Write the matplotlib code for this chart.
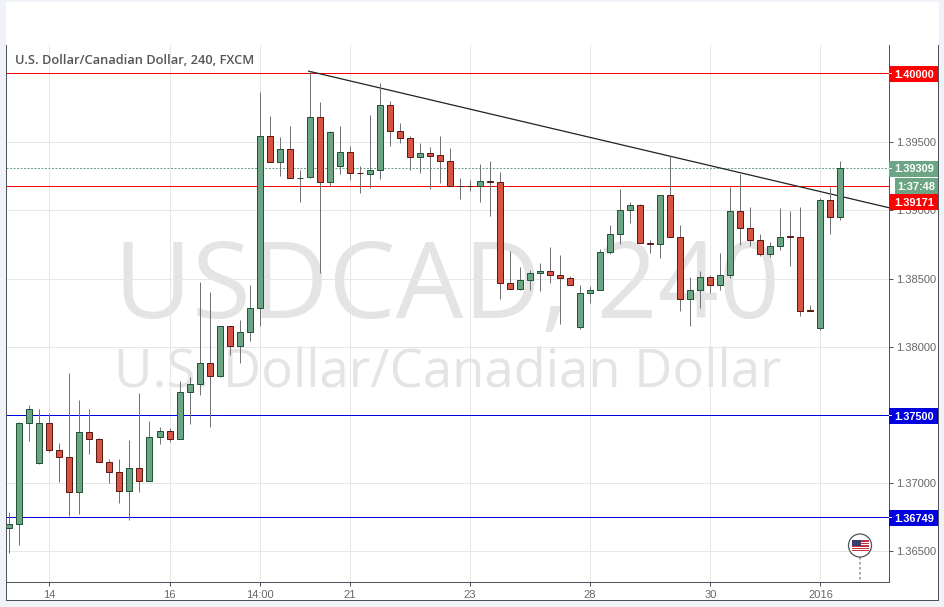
import matplotlib
matplotlib.use("Agg")
import matplotlib.pyplot as plt
from matplotlib.patches import Rectangle, Circle
from matplotlib.transforms import Affine2D

# --- candles, oldest first ---
opens = [1.36667, 1.36699, 1.37441, 1.37147, 1.37441, 1.37243, 1.37191, 1.36934, 1.37375, 1.37323,
         1.37154, 1.37081, 1.36941, 1.37110, 1.37015, 1.37338, 1.37382, 1.37323, 1.37669, 1.37728,
         1.37882, 1.37786, 1.38154, 1.38007, 1.38110, 1.38287, 1.39544, 1.39353, 1.39448, 1.39235,
         1.39243, 1.39684, 1.39211, 1.39328, 1.39426, 1.39277, 1.39270, 1.39294, 1.39772, 1.39581,
         1.39529, 1.39390, 1.39419, 1.39404, 1.39360, 1.39183, 1.39183, 1.39181, 1.39213, 1.39206,
         1.38471, 1.38427, 1.38493, 1.38544, 1.38559, 1.38530, 1.38508, 1.38145, 1.38397, 1.38419,
         1.38699, 1.38831, 1.39007, 1.39037, 1.38762, 1.38757, 1.39110, 1.38802, 1.38353, 1.38419,
         1.38515, 1.38456, 1.38530, 1.38993, 1.38875, 1.38787, 1.38684, 1.38743, 1.38811, 1.38809,
         1.38267, 1.38140, 1.39074, 1.38949]
highs = [1.36789, 1.37451, 1.37576, 1.37546, 1.37515, 1.37294, 1.37809, 1.37613, 1.37546, 1.37333,
         1.37176, 1.37176, 1.37319, 1.37662, 1.37458, 1.37412, 1.37404, 1.37750, 1.37779, 1.38473,
         1.38400, 1.38154, 1.38154, 1.38193, 1.38451, 1.39870, 1.39693, 1.39539, 1.39620, 1.39294,
         1.40020, 1.39794, 1.39583, 1.39620, 1.39470, 1.39323, 1.39701, 1.39933, 1.39801, 1.39639,
         1.39544, 1.39492, 1.39463, 1.39544, 1.39456, 1.39238, 1.39220, 1.39338, 1.39360, 1.39279,
         1.38706, 1.38588, 1.38566, 1.38618, 1.38735, 1.38677, 1.38522, 1.38456, 1.38449, 1.38721,
         1.38890, 1.39154, 1.39059, 1.39051, 1.38780, 1.39110, 1.39399, 1.38890, 1.38510, 1.38559,
         1.38530, 1.38686, 1.39174, 1.39265, 1.39022, 1.38831, 1.38772, 1.39015, 1.38995, 1.39022,
         1.38304, 1.39088, 1.39174, 1.39363]
lows = [1.36490, 1.36547, 1.37306, 1.37137, 1.37225, 1.37010, 1.36762, 1.36770, 1.37211, 1.37154,
        1.36998, 1.36851, 1.36726, 1.36931, 1.37015, 1.37284, 1.37299, 1.37323, 1.37431, 1.37644,
        1.37409, 1.37779, 1.37938, 1.37880, 1.38041, 1.38156, 1.39353, 1.39252, 1.39235, 1.39061,
        1.39240, 1.38542, 1.39179, 1.39267, 1.39223, 1.39130, 1.39167, 1.39233, 1.39475, 1.39497,
        1.39299, 1.39277, 1.39159, 1.39203, 1.39181, 1.39086, 1.39145, 1.39064, 1.38961, 1.38351,
        1.38427, 1.38419, 1.38417, 1.38410, 1.38468, 1.38167, 1.38456, 1.38130, 1.38321, 1.38419,
        1.38679, 1.38757, 1.38909, 1.38765, 1.38689, 1.38650, 1.38802, 1.38263, 1.38152, 1.38285,
        1.38392, 1.38417, 1.38505, 1.38745, 1.38738, 1.38669, 1.38659, 1.38708, 1.38593, 1.38226,
        1.38263, 1.38125, 1.38829, 1.38931]
closes = [1.36699, 1.37441, 1.37544, 1.37441, 1.37243, 1.37191, 1.36934, 1.37375, 1.37323, 1.37154,
          1.37081, 1.36941, 1.37110, 1.37015, 1.37338, 1.37382, 1.37323, 1.37669, 1.37728, 1.37882,
          1.37786, 1.38154, 1.38007, 1.38110, 1.38287, 1.39544, 1.39353, 1.39448, 1.39235, 1.39240,
          1.39684, 1.39211, 1.39573, 1.39426, 1.39277, 1.39272, 1.39294, 1.39772, 1.39581, 1.39529,
          1.39390, 1.39419, 1.39402, 1.39360, 1.39181, 1.39176, 1.39178, 1.39213, 1.39206, 1.38471,
          1.38427, 1.38493, 1.38544, 1.38559, 1.38530, 1.38508, 1.38456, 1.38397, 1.38419, 1.38699,
          1.38831, 1.39007, 1.39037, 1.38765, 1.38755, 1.39110, 1.38802, 1.38353, 1.38419, 1.38515,
          1.38456, 1.38530, 1.38993, 1.38875, 1.38787, 1.38684, 1.38743, 1.38809, 1.38807, 1.38265,
          1.38263, 1.39074, 1.38949, 1.39309]

x_ticks = [4, 16, 25, 34, 46, 58, 70, 81]
x_labels = ["14", "16", "14:00", "21", "23", "28", "30", "2016"]
y_ticks = [1.365, 1.37, 1.38, 1.385, 1.39, 1.395]

# horizontal levels and the trend line
red_levels = [1.40007, 1.39176]
blue_levels = [1.375, 1.36749]
last_price = 1.39309
trend_x = [29.9, 87.8]
trend_y = [1.40022, 1.39021]

TITLE = "U.S. Dollar/Canadian Dollar, 240, FXCM"
MARK_1 = "USDCAD, 240"
MARK_2 = "U.S. Dollar/Canadian Dollar"

# colours
UP_FILL, UP_EDGE = "#6ba583", "#225437"
DOWN_FILL, DOWN_EDGE = "#d75442", "#5b1a13"
WICK = "#737375"
GRID = "#e6e6e6"
FRAME = "#50535e"
BACK = "#eff3f7"
TICK_TEXT = "#666666"
RED = "#ff0000"
BLUE = "#0000e0"
ONE_PX = 0.72

W, H = 945, 607
fig = plt.figure(figsize=(W / 100, H / 100), dpi=100, facecolor=BACK)
PX = Affine2D().scale(1, -1).translate(0, H)  # figure pixels, y going down


def box(x0, y0, x1, y1, color, z=10, **kw):
    fig.add_artist(Rectangle((x0, y0), x1 - x0, y1 - y0, transform=PX,
                             facecolor=color, edgecolor="none", zorder=z, **kw))


def label(x, y, s, color="white", size=7.9, weight="bold", ha="center"):
    fig.text(x, y, s, transform=PX, color=color, fontsize=size, fontweight=weight,
             ha=ha, va="center", family="Liberation Sans", zorder=12)


# white panel + outer frame
box(6, 2, 938.5, 601, "white", z=-5)
box(6, 45, 7, 601, FRAME, z=5)
box(6, 600, 939, 601, FRAME, z=5)
box(938, 45, 939, 601, FRAME, z=5)

ax = fig.add_axes([6.5 / W, 1 - 581.5 / H, 882 / W, 536.5 / H])
ax.patch.set_alpha(0)
ax.set_xlim(-0.28, 87.8)
ax.set_ylim(1.36278, 1.40214)
ax.spines[["top", "left"]].set_visible(False)
ax.spines[["right", "bottom"]].set_color(FRAME)
ax.spines[["right", "bottom"]].set_linewidth(ONE_PX)

ax.yaxis.tick_right()
ax.set_yticks(y_ticks)
ax.set_yticklabels([f"{v:.5f}" for v in y_ticks], family="Liberation Sans", fontsize=8, color=TICK_TEXT)
ax.set_xticks(x_ticks)
ax.set_xticklabels(x_labels, family="Liberation Sans", fontsize=8, color=TICK_TEXT)
ax.tick_params(axis="both", length=3, width=ONE_PX, color=FRAME, pad=3)
ax.tick_params(axis="y", pad=2.5)
ax.grid(True, color=GRID, linewidth=ONE_PX, zorder=0)
ax.set_axisbelow(True)

# watermarks
fig.text(447, 318, MARK_1, transform=PX, color="#e4e4e4", fontsize=77, ha="center", va="baseline",
         family="Open Sans", zorder=-1)
fig.text(448, 387, MARK_2, transform=PX, color="#e4e4e4", fontsize=38, ha="center", va="baseline",
         family="Open Sans", zorder=-1)

# levels
for v in red_levels:
    ax.axhline(v, color=RED, linewidth=ONE_PX, zorder=2)
for v in blue_levels:
    ax.axhline(v, color=BLUE, linewidth=ONE_PX, zorder=2)
ax.axhline(last_price, color=UP_FILL, linewidth=ONE_PX, linestyle=(0, (2, 1.5)), zorder=2)
ax.plot(trend_x, trend_y, color="#222222", linewidth=0.9, zorder=3)

# candles
xs = range(len(opens))
fills = [UP_FILL if c >= o else DOWN_FILL for o, c in zip(opens, closes)]
edges = [UP_EDGE if c >= o else DOWN_EDGE for o, c in zip(opens, closes)]
bottoms = [min(o, c) for o, c in zip(opens, closes)]
heights = [abs(c - o) for o, c in zip(opens, closes)]
ax.vlines(xs, lows, highs, color=WICK, linewidth=ONE_PX, zorder=4)
ax.bar(xs, heights, bottom=bottoms, width=0.6, color=fills, edgecolor=edges, linewidth=ONE_PX, zorder=5)

# title
fig.text(15, 60.5, TITLE, transform=PX, color="#555555", fontsize=9.3, fontweight="semibold",
         ha="left", va="center", family="Open Sans", zorder=12)

# price scale badges
badges = [(66, 82, RED, "1.40000"), (161, 177, UP_FILL, "1.39309"), (194, 210, RED, "1.39171"),
          (408, 424, BLUE, "1.37500"), (510, 526, BLUE, "1.36749")]
for y0, y1, col, txt in badges:
    box(888.5, y0, 938, y1, col)
    label(914.5, (y0 + y1) / 2 + 0.5, txt)
box(895, 178, 938, 194, UP_FILL)
label(916.5, 186.5, "1:37:48")
for y in (73, 168, 415, 517):
    box(888.5, y, 892, y + 1, "white", z=11)

# US event marker
fig.add_artist(plt.Line2D([860, 860], [557, 580], transform=PX, color="#999999", linewidth=1.2,
                          linestyle=(0, (1.5, 1.5)), zorder=6))
fig.add_artist(Circle((860, 545.5), 11.5, transform=PX, facecolor="white", edgecolor=FRAME,
                      linewidth=0.9, zorder=7))
for k in range(7):
    box(852, 539.5 + k * 1.7, 868.5, 539.5 + k * 1.7 + 1.0, "#c8313e", z=8)
box(852, 539.5, 861, 546, "#3c3b6e", z=9)

fig.savefig("out.png", dpi=100, facecolor=BACK)
